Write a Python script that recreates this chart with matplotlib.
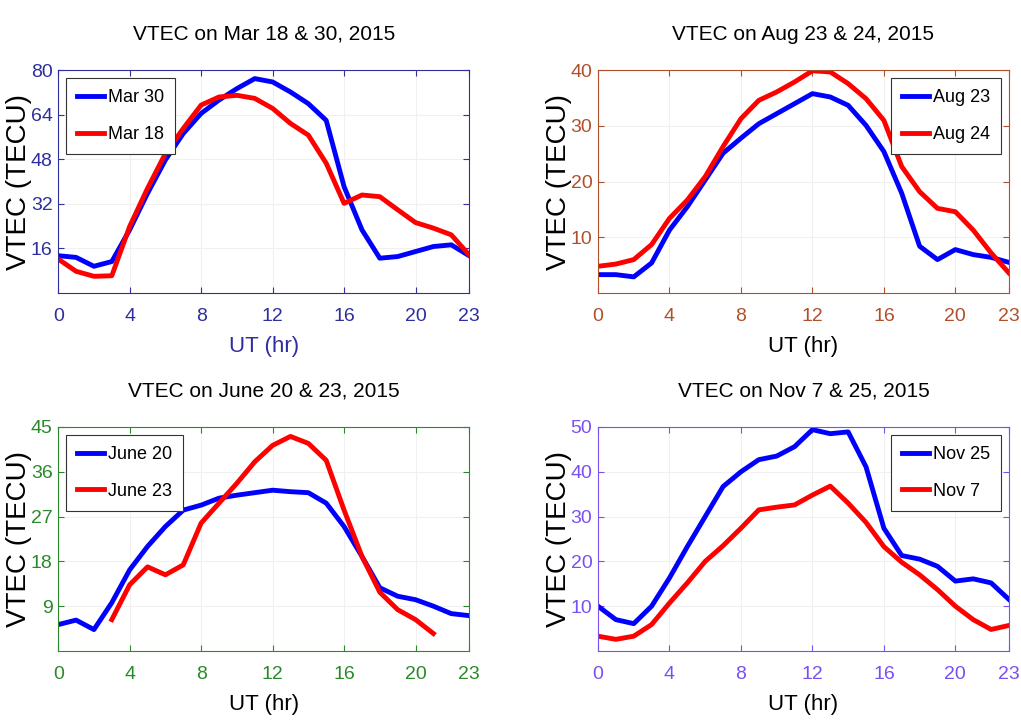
import numpy as np
import matplotlib
matplotlib.use("Agg")
import matplotlib.pyplot as plt

plt.rcParams['font.family'] = ['Liberation Sans', 'DejaVu Sans']

hours = list(range(24))
xticks = [0, 4, 8, 12, 16, 20, 23]

# panel (a) March
mar30 = [13.4, 12.8, 9.6, 11.3, 22.7, 35.8, 47.8, 57.3, 64.5, 69.3, 73.4, 77.0,
         75.8, 72.2, 68.0, 62.0, 38.2, 22.7, 12.5, 13.1, 14.9, 16.7, 17.3, 13.4]
mar18 = [12.2, 7.8, 6.0, 6.2, 23.9, 37.6, 50.1, 59.1, 67.5, 70.4, 71.0, 69.9,
         66.3, 60.9, 56.7, 46.6, 32.2, 35.2, 34.6, 29.9, 25.3, 23.3, 20.9, 13.7]

# panel (b) August
aug23 = [3.3, 3.3, 2.9, 5.4, 11.3, 15.5, 20.3, 25.1, 27.8, 30.4, 32.2, 34.0,
         35.8, 35.2, 33.7, 30.1, 25.4, 17.9, 8.4, 6.0, 7.8, 6.9, 6.4, 5.5]
aug24 = [4.8, 5.2, 6.0, 8.7, 13.4, 16.7, 20.9, 26.3, 31.3, 34.6, 36.1, 37.9,
         39.9, 39.7, 37.6, 34.9, 31.0, 22.7, 18.2, 15.2, 14.6, 11.3, 7.2, 3.6]

# panel (c) June
june20 = [5.3, 6.2, 4.3, 9.7, 16.3, 21.0, 25.0, 28.3, 29.3, 30.7, 31.3, 31.8,
          32.3, 32.0, 31.8, 29.7, 25.0, 19.0, 12.7, 11.0, 10.3, 9.0, 7.5, 7.1]
june23_hours = list(range(3, 22))
june23 = [6.3, 13.3, 16.9, 15.3, 17.3, 25.7, 29.7, 33.7, 38.0, 41.3, 43.1,
          41.7, 38.3, 28.3, 19.0, 11.8, 8.3, 6.3, 3.5]

# panel (d) November
nov25 = [10.0, 7.0, 6.1, 10.0, 16.3, 23.3, 30.0, 36.7, 40.0, 42.7, 43.5, 45.6,
         49.4, 48.5, 48.9, 41.1, 27.4, 21.3, 20.5, 18.9, 15.6, 16.1, 15.2, 11.5]
nov7 = [3.3, 2.6, 3.3, 5.9, 10.7, 15.2, 20.0, 23.5, 27.4, 31.5, 32.1, 32.6,
        34.8, 36.8, 33.0, 28.7, 23.3, 19.8, 17.0, 13.7, 10.0, 7.0, 4.8, 5.7]

panels = [
    dict(pos=[0.057, 0.5975, 0.4025, 0.306], title="VTEC on Mar 18 & 30, 2015",
         c='#2e2e9e', ylim=80, yticks=[16, 32, 48, 64, 80],
         blue=(hours, mar30, "Mar 30"), red=(hours, mar18, "Mar 18"),
         loc='upper left', xlc='#2e2e9e'),
    dict(pos=[0.5857, 0.5975, 0.4025, 0.306], title="VTEC on Aug 23 & 24, 2015",
         c='#b0502a', ylim=40, yticks=[10, 20, 30, 40],
         blue=(hours, aug23, "Aug 23"), red=(hours, aug24, "Aug 24"),
         loc='upper right', xlc='black'),
    dict(pos=[0.057, 0.1058, 0.4025, 0.3077], title="VTEC on June 20 & 23, 2015",
         c='#2a8a2a', ylim=45, yticks=[9, 18, 27, 36, 45],
         blue=(hours, june20, "June 20"), red=(june23_hours, june23, "June 23"),
         loc='upper left', xlc='black'),
    dict(pos=[0.5857, 0.1058, 0.4025, 0.3077], title="VTEC on Nov 7 & 25, 2015",
         c='#7a50f0', ylim=50, yticks=[10, 20, 30, 40, 50],
         blue=(hours, nov25, "Nov 25"), red=(hours, nov7, "Nov 7"),
         loc='upper right', xlc='black'),
]

fig = plt.figure(figsize=(10.21, 7.28), dpi=100)

for p in panels:
    ax = fig.add_axes(p['pos'])
    bx, by, bl = p['blue']
    rx, ry, rl = p['red']
    ax.plot(bx, by, color='#0000ff', lw=3.5, label=bl)
    ax.plot(rx, ry, color='#ff0000', lw=3.5, label=rl)
    ax.set_xlim(0, 23)
    ax.set_ylim(0, p['ylim'])
    ax.set_xticks(xticks)
    ax.set_yticks(p['yticks'])
    ax.grid(True, color='#f0f0f0', lw=0.8)
    for s in ax.spines.values():
        s.set_color(p['c'])
        s.set_linewidth(0.8)
    ax.tick_params(direction='in', length=4, top=True, right=True,
                   colors=p['c'], labelsize=14)
    ax.tick_params(axis='x', pad=11)
    ax.tick_params(axis='y', pad=4)
    ax.set_title(p['title'], fontsize=15, pad=22)
    ax.set_xlabel("UT (hr)", fontsize=16, color=p['xlc'], labelpad=8)
    ax.set_ylabel("VTEC (TECU)", fontsize=20)
    ax.yaxis.set_label_coords(-0.063, 0.5)
    leg = ax.legend(loc=p['loc'], fontsize=13, fancybox=False, framealpha=1,
                    edgecolor='#333333', handlelength=1.5, handletextpad=0.2,
                    borderaxespad=0.45, labelspacing=1.1, borderpad=0.6)
    leg.get_frame().set_linewidth(0.8)

fig.savefig("out.png", dpi=100)
